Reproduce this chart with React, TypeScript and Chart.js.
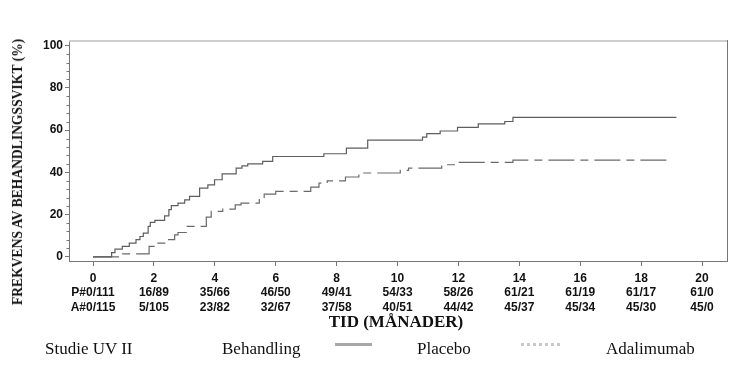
import React, { useEffect, useRef } from "react";
import { Chart, registerables } from "chart.js";

Chart.register(...registerables);

// ---- data ----
const xTickValues = [0, 2, 4, 6, 8, 10, 12, 14, 16, 18, 20];
const yTickValues = [0, 20, 40, 60, 80, 100];
const placeboAtRisk = ["P#0/111", "16/89", "35/66", "46/50", "49/41", "54/33", "58/26", "61/21", "61/19", "61/17", "61/0"];
const adalimumabAtRisk = ["A#0/115", "5/105", "23/82", "32/67", "37/58", "40/51", "44/42", "45/37", "45/34", "45/30", "45/0"];

const placeboMonths = [0, 0.61, 0.72, 0.96, 1.19, 1.41, 1.54, 1.65, 1.81, 1.88, 2.03, 2.35, 2.49, 2.57, 2.79, 3.01, 3.17, 3.5, 3.77, 3.99, 4.24, 4.7, 4.89, 5.08, 5.57, 5.9, 7.58, 8.32, 9.02, 10.82, 10.96, 11.4, 11.97, 12.65, 13.52, 13.79, 19.16];
const placeboPct = [0, 2.0, 3.6, 4.9, 6.5, 8.1, 9.6, 11.2, 14.4, 16.3, 17.2, 19.4, 22.3, 24.2, 25.4, 27.0, 28.6, 32.5, 34.1, 36.5, 39.3, 42.0, 43.1, 44.0, 45.2, 47.5, 48.8, 51.5, 55.3, 56.7, 58.3, 59.6, 61.3, 63.0, 64.1, 66.0, 66.0];

const adalimumabMonths = [0, 0.97, 1.84, 2.03, 2.41, 2.68, 2.79, 3.06, 3.72, 3.88, 4.26, 4.67, 4.86, 5.46, 5.62, 6.0, 7.15, 7.42, 7.69, 8.29, 8.73, 10.09, 10.36, 11.45, 11.97, 13.79, 18.83];
const adalimumabPct = [0, 1.4, 4.9, 6.5, 8.1, 10.4, 11.5, 14.4, 18.8, 21.5, 22.6, 24.6, 25.4, 27.8, 29.7, 31.0, 33.0, 34.9, 36.0, 37.8, 39.7, 40.9, 42.0, 43.6, 44.7, 45.8, 45.8];

const minorYTicks = [4, 8, 12, 16, 24, 28, 32, 36, 44, 48, 52, 56, 64, 68, 72, 76, 84, 88, 92, 96];

const tickFont = { family: "'Liberation Sans', Arial, sans-serif", size: 12, weight: "bold" as const };

const framePlugin = {
  id: "frame",
  afterDraw(chart: any) {
    const { ctx, chartArea } = chart;
    const y = chart.scales.y;
    ctx.save();
    // minor y ticks
    ctx.strokeStyle = "#777";
    ctx.lineWidth = 1;
    ctx.beginPath();
    minorYTicks.forEach((v) => {
      const py = Math.round(y.getPixelForValue(v)) + 0.5;
      ctx.moveTo(chartArea.left - 2.5, py);
      ctx.lineTo(chartArea.left, py);
    });
    ctx.stroke();
    // right border
    ctx.strokeStyle = "#777";
    ctx.beginPath();
    ctx.moveTo(chartArea.right + 0.5, chartArea.top);
    ctx.lineTo(chartArea.right + 0.5, chartArea.bottom);
    ctx.stroke();
    // top border (light)
    ctx.strokeStyle = "#cfcfcf";
    ctx.lineWidth = 2;
    ctx.beginPath();
    ctx.moveTo(chartArea.left, chartArea.top + 1);
    ctx.lineTo(chartArea.right, chartArea.top + 1);
    ctx.stroke();
    ctx.restore();
  },
};

export default function App() {
  const canvasRef = useRef<HTMLCanvasElement | null>(null);

  useEffect(() => {
    const canvas = canvasRef.current;
    if (!canvas) return;
    const chart = new Chart(canvas, {
      type: "line",
      data: {
        datasets: [
          {
            label: "Placebo",
            data: placeboMonths.map((t, i) => ({ x: t, y: placeboPct[i] })),
            borderColor: "#5e5e5e",
            borderWidth: 1.2,
            pointRadius: 0,
            fill: false,
            stepped: true,
          },
          {
            label: "Adalimumab",
            data: adalimumabMonths.map((t, i) => ({ x: t, y: adalimumabPct[i] })),
            borderColor: "#6a6a6a",
            borderWidth: 1.2,
            borderDash: [26, 6, 8, 6],
            pointRadius: 0,
            fill: false,
            stepped: true,
          },
        ],
      },
      options: {
        animation: false,
        responsive: false,
        devicePixelRatio: 1,
        layout: { padding: { top: 40, right: 21, left: 0, bottom: 0 } },
        plugins: { legend: { display: false }, tooltip: { enabled: false } },
        scales: {
          x: {
            type: "linear",
            min: -0.79,
            max: 20.82,
            afterBuildTicks: (s: any) => {
              s.ticks = xTickValues.map((v) => ({ value: v }));
            },
            afterFit: (s: any) => {
              s.height = 106;
            },
            ticks: {
              autoSkip: false,
              maxRotation: 0,
              minRotation: 0,
              padding: 5.5,
              color: "#111",
              font: { ...tickFont, lineHeight: 1.2 },
              callback: (v: any, i: number) => [String(v), placeboAtRisk[i], adalimumabAtRisk[i]],
            },
            grid: { drawOnChartArea: false, drawTicks: true, tickLength: 5, tickColor: "#777" },
            border: { color: "#777" },
          },
          y: {
            type: "linear",
            min: -2.0,
            max: 102.7,
            afterBuildTicks: (s: any) => {
              s.ticks = yTickValues.map((v) => ({ value: v }));
            },
            afterFit: (s: any) => {
              s.width = 69;
            },
            ticks: {
              padding: 2,
              color: "#111",
              font: tickFont,
              callback: (v: any) => String(v),
            },
            grid: { drawOnChartArea: false, drawTicks: true, tickLength: 4, tickColor: "#777" },
            border: { color: "#777" },
          },
        },
      },
      plugins: [framePlugin],
    });
    return () => chart.destroy();
  }, []);

  const serif = "'Liberation Serif', 'Times New Roman', serif";

  return (
    <div style={{ position: "fixed", left: 0, top: 0, width: 748, height: 367, background: "#fff", overflow: "hidden" }}>
      <canvas ref={canvasRef} width={748} height={367} style={{ position: "absolute", left: 0, top: 0, width: 748, height: 367 }} />
      <div
        style={{
          position: "absolute",
          left: 18,
          top: 172,
          transform: "translate(-50%, -50%) rotate(-90deg)",
          whiteSpace: "nowrap",
          fontFamily: serif,
          fontWeight: "bold",
          fontSize: 13.6,
          color: "#111",
        }}
      >
        FREKVENS AV BEHANDLINGSSVIKT (%)
      </div>
      <div
        style={{
          position: "absolute",
          left: 396,
          top: 322,
          transform: "translate(-50%, -50%)",
          whiteSpace: "nowrap",
          fontFamily: serif,
          fontWeight: "bold",
          fontSize: 17,
          color: "#111",
        }}
      >
        TID (MÅNADER)
      </div>
      <div style={{ position: "absolute", left: 45, top: 349, transform: "translateY(-50%)", fontFamily: serif, fontSize: 17, color: "#111", whiteSpace: "nowrap" }}>Studie UV II</div>
      <div style={{ position: "absolute", left: 222, top: 349, transform: "translateY(-50%)", fontFamily: serif, fontSize: 17, color: "#111", whiteSpace: "nowrap" }}>Behandling</div>
      <div style={{ position: "absolute", left: 335, top: 343, width: 37, height: 0, borderTop: "3px solid #a8a8a8" }} />
      <div style={{ position: "absolute", left: 417, top: 349, transform: "translateY(-50%)", fontFamily: serif, fontSize: 17, color: "#111", whiteSpace: "nowrap" }}>Placebo</div>
      <div style={{ position: "absolute", left: 521, top: 343, width: 39, height: 0, borderTop: "3px dotted #c8c8c8" }} />
      <div style={{ position: "absolute", left: 606, top: 349, transform: "translateY(-50%)", fontFamily: serif, fontSize: 17, color: "#111", whiteSpace: "nowrap" }}>Adalimumab</div>
    </div>
  );
}
